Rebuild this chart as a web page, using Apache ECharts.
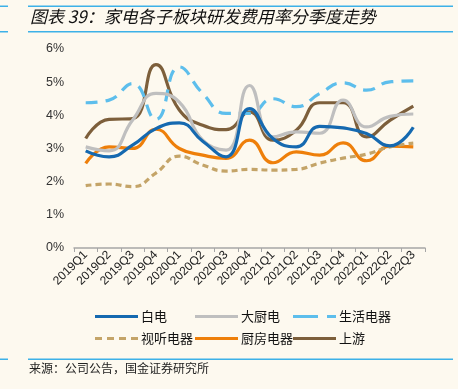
<!DOCTYPE html>
<html><head><meta charset="utf-8">
<script src="https://cdn.jsdelivr.net/npm/echarts@6/dist/echarts.min.js"></script>
<style>html,body{margin:0;padding:0;background:#FDF9EF;}#c{width:458px;height:389px;}</style>
</head><body><div id="c"></div>
<script>
var categories = ['2019Q1','2019Q2','2019Q3','2019Q4','2020Q1','2020Q2','2020Q3','2020Q4','2021Q1','2021Q2','2021Q3','2021Q4','2022Q1','2022Q2','2022Q3'];
var baiDian = [2.93,2.75,3.1,3.6,3.77,3.22,2.75,4.2,3.3,3.05,3.67,3.62,3.45,3.08,3.64];
var daChuDian = [3.05,2.93,3.85,4.66,4.4,3.25,2.95,4.9,3.35,3.5,3.46,4.46,3.65,3.97,4.04];
var shengHuo = [4.38,4.46,4.96,3.88,5.46,4.66,4.06,4.06,4.5,4.26,4.66,4.98,4.76,5.01,5.04];
var shiTing = [1.88,1.93,1.85,2.26,2.77,2.5,2.32,2.37,2.35,2.37,2.56,2.71,2.83,3.05,3.16];
var chuFang = [2.55,3.05,3.0,3.58,3.0,2.8,2.7,3.25,2.57,2.9,2.8,3.17,2.63,3.07,3.05];
var shangYou = [3.3,3.88,3.9,5.53,4.16,3.7,3.57,4.1,3.25,3.55,4.38,4.38,3.35,3.85,4.28];
var yTicks = [0,1,2,3,4,5,6];
var seriesNames = ['白电','大厨电','生活电器','视听电器','厨房电器','上游'];
var seriesData = [baiDian, daChuDian, shengHuo, shiTing, chuFang, shangYou];
var colors = ['#1569B0','#BFBFBF','#5DBEEC','#C4A468','#EE7F0A','#7D5F3B'];
var dashes = ['solid','solid',[12,8],[6,4],'solid','solid'];
var solidIcon = 'path://M0,0H43V3H0Z';
var icons = [solidIcon, solidIcon, 'path://M0,0H25V3H0Z M34,0H43V3H34Z',
  'path://M0,0H7V3H0Z M12,0H19V3H12Z M24,0H31V3H24Z M36,0H43V3H36Z', solidIcon, solidIcon];

var chart = echarts.init(document.getElementById('c'));
var series = seriesNames.map(function(n,i){
  return {name:n,type:'line',data:seriesData[i],smooth:true,symbol:'none',
    lineStyle:{color:colors[i],width:3.2,type:dashes[i]},itemStyle:{color:colors[i]},z:10-i};
});
var legendPos = [[95,310],[195,310],[293,310],[95,332],[195,332],[293,332]];
var legends = seriesNames.map(function(n,i){
  return {data:[{name:n,icon:icons[i]}],left:legendPos[i][0],top:legendPos[i][1],padding:0,
    itemWidth:43,itemHeight:3,itemGap:0,
    textStyle:{fontSize:13,color:'#111',fontFamily:'Noto Sans CJK SC',padding:[0,0,0,-2]}};
});
chart.setOption({
  backgroundColor:'#FDF9EF',
  animation:false,
  color:colors,
  grid:{left:74,right:33,top:49,bottom:141},
  legend:legends,
  xAxis:{type:'category',data:categories,boundaryGap:true,
    axisLine:{lineStyle:{color:'#A6A6A6',width:1.5}},
    axisTick:{show:true,length:4,lineStyle:{color:'#A6A6A6'}},
    axisLabel:{rotate:45,fontSize:12,color:'#222',fontFamily:'Liberation Sans',margin:5,interval:0}},
  yAxis:{type:'value',min:0,max:6,interval:1,
    axisLine:{show:false},axisTick:{show:false},splitLine:{show:false},
    axisLabel:{fontSize:12.5,color:'#333',fontFamily:'Liberation Sans',margin:10,
      formatter:function(v){return yTicks.indexOf(v)>=0? v+'%':'';}}},
  series:series,
  graphic:[
    {type:'rect',shape:{x:0,y:5.5,width:8,height:1.5},style:{fill:'#3DB1E8'}},
    {type:'rect',shape:{x:28,y:5.5,width:425,height:1.5},style:{fill:'#3DB1E8'}},
    {type:'rect',shape:{x:0,y:31,width:8,height:1.5},style:{fill:'#3DB1E8'}},
    {type:'rect',shape:{x:28,y:31,width:425,height:1.5},style:{fill:'#3DB1E8'}},
    {type:'text',left:30,top:8,style:{text:'图表 39：家电各子板块研发费用率分季度走势',font:'italic 17px "Noto Sans CJK SC"',fill:'#111'}},
    {type:'rect',shape:{x:0,y:358.5,width:8,height:1.5},style:{fill:'#3DB1E8'}},
    {type:'rect',shape:{x:28,y:358.5,width:425,height:1.5},style:{fill:'#3DB1E8'}},
    {type:'text',left:29,top:362,style:{text:'来源：公司公告，国金证券研究所',font:'12px "Noto Sans CJK SC"',fill:'#222'}}
  ]
});
</script></body></html>
